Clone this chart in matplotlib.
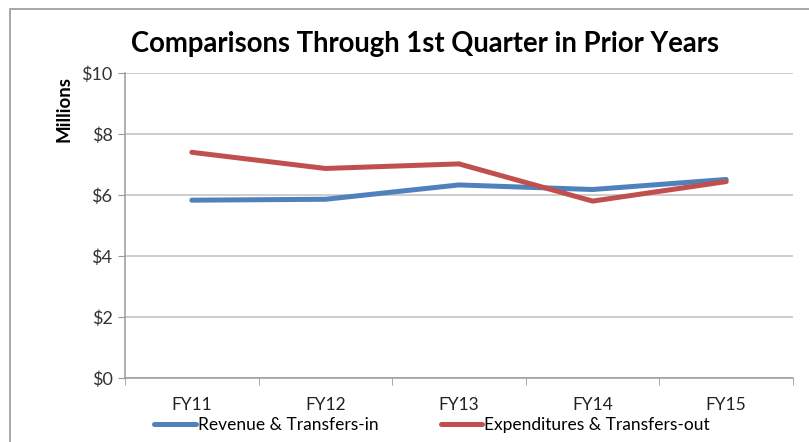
import numpy as np
import matplotlib.pyplot as plt
from matplotlib.patches import Rectangle

years = ["FY11", "FY12", "FY13", "FY14", "FY15"]
revenue = [5.83, 5.86, 6.33, 6.18, 6.51]
expenditures = [7.40, 6.87, 7.02, 5.80, 6.44]
y_ticks = [0, 2, 4, 6, 8, 10]
y_labels = ["$0", "$2", "$4", "$6", "$8", "$10"]

plt.rcParams['font.family'] = ['Lato', 'DejaVu Sans']

fig = plt.figure(figsize=(8.09, 4.42), dpi=100)
# chart frame (cut at right and bottom like the screenshot)
fig.patches.append(Rectangle((10 / 809, -0.1), 1.2, 1 - 9 / 442 + 0.1,
                             transform=fig.transFigure, fill=False,
                             edgecolor='#9a9a9a', linewidth=1.2))

ax = fig.add_axes([125 / 809, 1 - 378 / 442, (793 - 125) / 809, (378 - 73) / 442])
x = np.arange(len(years))
ax.plot(x, revenue, color='#4F81BD', linewidth=3.6, solid_capstyle='round',
        label="Revenue & Transfers-in")
ax.plot(x, expenditures, color='#C0504D', linewidth=3.6, solid_capstyle='round',
        label="Expenditures & Transfers-out")

ax.set_xlim(-0.5, len(years) - 0.5)
ax.set_ylim(0, 10)
ax.set_yticks(y_ticks)
ax.set_yticklabels(y_labels, fontsize=13, color='#333333')
ax.set_xticks(x)
ax.set_xticklabels(years, fontsize=12.5, color='#222222')
ax.tick_params(axis='x', length=0, pad=14)
ax.set_xticks(np.arange(-0.5, len(years)), minor=True)
ax.tick_params(axis='x', which='minor', length=5, color='#9a9a9a', direction='out')
ax.tick_params(axis='y', length=5, color='#9a9a9a', pad=4)
ax.grid(axis='y', color='#c0c0c0', linewidth=1.1)
ax.set_axisbelow(True)
for s in ['top', 'right']:
    ax.spines[s].set_visible(False)
for s in ['left', 'bottom']:
    ax.spines[s].set_color('#9a9a9a')
    ax.spines[s].set_linewidth(1.1)

fig.text(64 / 809, 1 - 109 / 442, "Millions", rotation=90, ha='center', va='center',
         fontsize=13.5, fontweight='bold')
fig.text(425 / 809, 1 - 44 / 442, "Comparisons Through 1st Quarter in Prior Years",
         ha='center', va='center', fontsize=19.8, fontweight='bold')

fig.legend(loc='center', bbox_to_anchor=(432 / 809, 1 - 425 / 442), ncol=2,
           frameon=False, fontsize=12.5, handlelength=2.4, handletextpad=0.1,
           columnspacing=3.6)

fig.savefig("out.png", dpi=100)
